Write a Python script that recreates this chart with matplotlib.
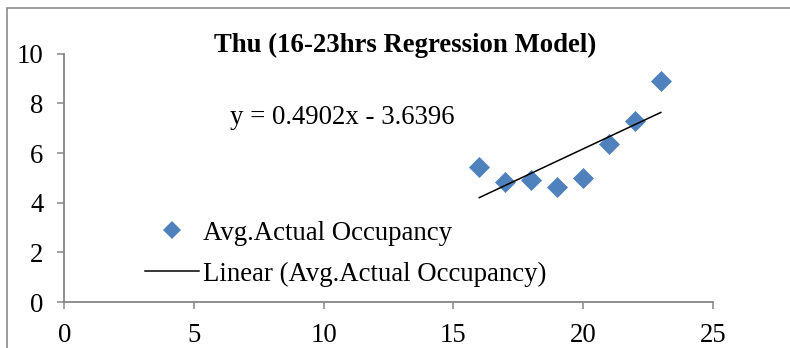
import matplotlib.pyplot as plt
from matplotlib.lines import Line2D
from matplotlib.patches import Rectangle

plt.rcParams['font.family'] = ['Liberation Serif', 'DejaVu Serif']

# average actual occupancy per hour, Thursday 16-23hrs
hours = [16, 17, 18, 19, 20, 21, 22, 23]
occupancy = [5.45, 4.82, 4.92, 4.65, 5.00, 6.35, 7.28, 8.92]

# linear regression coefficients
slope = 0.4902
intercept = -3.6396

x_ticks = [0, 5, 10, 15, 20, 25]
y_ticks = [0, 2, 4, 6, 8, 10]

blue = '#4F81BD'
axis_grey = '#868686'
fs = 19.3

fig = plt.figure(figsize=(7.9, 3.48), dpi=100)
ax = fig.add_axes([64.3 / 790, 1 - 302 / 348, (712.7 - 64.3) / 790, (302 - 53.7) / 348])

ax.scatter(hours, occupancy, marker='D', s=115, color=blue, zorder=3,
           linewidths=0)
trend_x = [hours[0], hours[-1]]
trend_y = [slope * h + intercept for h in trend_x]
ax.plot(trend_x, trend_y, color='black', lw=1.1, zorder=4)

ax.set_xlim(0, 25)
ax.set_ylim(0, 10)
ax.set_xticks(x_ticks)
ax.set_yticks(y_ticks)
ax.tick_params(labelsize=fs, length=5, width=1.1, color=axis_grey, pad=10)
for side in ['top', 'right']:
    ax.spines[side].set_visible(False)
for side in ['left', 'bottom']:
    ax.spines[side].set_color(axis_grey)
    ax.spines[side].set_linewidth(1.3)
ax.patch.set_alpha(0)

fig.text(405 / 790, 1 - 52 / 348, 'Thu (16-23hrs Regression Model)',
         ha='center', va='baseline', fontsize=fs, fontweight='bold')
fig.text(230 / 790, 1 - 124 / 348, f'y = {slope}x - {abs(intercept)}',
         ha='left', va='baseline', fontsize=fs)

handles = [
    Line2D([], [], ls='none', marker='D', markersize=9.5, color=blue,
           markeredgewidth=0),
    Line2D([], [], color='black', lw=1.1),
]
labels = ['Avg.Actual Occupancy', 'Linear (Avg.Actual Occupancy)']
fig.legend(handles, labels, loc='upper left',
           bbox_to_anchor=(145 / 790, 1 - 220.5 / 348), frameon=False,
           fontsize=fs, handlelength=2.0, handletextpad=0.15,
           labelspacing=0.6, borderpad=0, borderaxespad=0)

# chart area outline
fig.patches.append(Rectangle((7 / 790, -0.1), 1.2, 1 - 8 / 348 + 0.1,
                             transform=fig.transFigure, fill=False,
                             edgecolor='#8a8a8a', lw=1.2))

fig.savefig('out.png', dpi=100)
